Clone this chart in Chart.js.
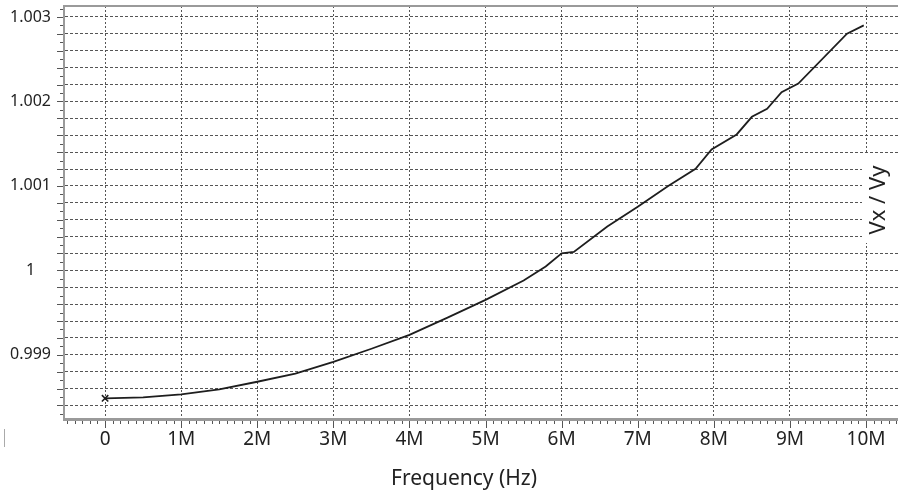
<!DOCTYPE html>
<html><head><meta charset="utf-8">
<script src="https://cdn.jsdelivr.net/npm/chart.js@4/dist/chart.umd.min.js"></script>
<style>html,body{margin:0;padding:0;background:#fff;overflow:hidden;} canvas{display:block;}</style>
</head><body>
<canvas id="c" width="898" height="493"></canvas>
<script>
const freqMHz = [0, 0.5, 1.0, 1.5, 2.0, 2.5, 3.0, 3.5, 4.0, 4.5, 5.0, 5.5, 5.79, 6.0, 6.16, 6.6, 7.0, 7.4, 7.76, 7.97, 8.3, 8.5, 8.7, 8.89, 9.11, 9.75, 9.97];
const ratio = [0.998485, 0.998497, 0.998532, 0.998592, 0.998681, 0.998778, 0.998917, 0.999072, 0.999237, 0.999440, 0.999650, 0.999880, 1.000045, 1.000202, 1.000218, 1.000520, 1.000754, 1.001000, 1.001203, 1.001431, 1.001609, 1.001818, 1.001913, 1.002109, 1.002212, 1.002803, 1.002901];
const xTickLabels = ['0', '1M', '2M', '3M', '4M', '5M', '6M', '7M', '8M', '9M', '10M'];
const yTickLabels = ['0.999', '1', '1.001', '1.002', '1.003'];
const xTitle = 'Frequency (Hz)';
const yTitle = 'Vx / Vy';

const FONT = "'Noto Sans', 'DejaVu Sans', sans-serif";

function noPad(s) { s.paddingTop = 0; s.paddingBottom = 0; s.paddingLeft = 0; s.paddingRight = 0; }

const deco = {
  id: 'deco',
  afterDraw(chart) {
    const {ctx, chartArea: a, scales: {x, y}} = chart;
    ctx.save();
    // top border
    ctx.strokeStyle = '#9a9a9a'; ctx.lineWidth = 2;
    ctx.beginPath(); ctx.moveTo(a.left, a.top); ctx.lineTo(a.right, a.top); ctx.stroke();
    // y minor ticks
    ctx.strokeStyle = '#555'; ctx.lineWidth = 1;
    for (let k = 0; k <= 50; k++) {
      const v = 0.9983 + k * 0.0001;
      if (v < y.min || v > y.max) continue;
      const py = Math.round(y.getPixelForValue(v)) + 0.5;
      const len = (k % 2 === 1) ? 6 : 3;
      ctx.beginPath(); ctx.moveTo(a.left - 1 - len, py); ctx.lineTo(a.left - 1, py); ctx.stroke();
    }
    // x minor ticks
    for (let t = -5; t <= 104; t++) {
      const v = t / 10;
      if (v < x.min || v > x.max) continue;
      const px = Math.round(x.getPixelForValue(v)) + 0.5;
      const len = (t % 10 === 0) ? 7 : 3;
      ctx.beginPath(); ctx.moveTo(px, a.bottom + 2); ctx.lineTo(px, a.bottom + 2 + len); ctx.stroke();
    }
    // y title with white box
    ctx.fillStyle = '#fff';
    ctx.fillRect(862, 154, 40, 89);
    ctx.fillStyle = '#222';
    ctx.font = '22px ' + FONT;
    ctx.textAlign = 'center'; ctx.textBaseline = 'middle';
    ctx.translate(879, 200); ctx.rotate(-Math.PI / 2);
    ctx.fillText(yTitle, 0, 0);
    ctx.restore();
    ctx.save();
    // x title
    ctx.fillStyle = '#222';
    ctx.font = '21px ' + FONT;
    ctx.textAlign = 'center'; ctx.textBaseline = 'middle';
    ctx.fillText(xTitle, 464, 479);
    // small artifact mark
    ctx.strokeStyle = '#aaa'; ctx.lineWidth = 1;
    ctx.beginPath(); ctx.moveTo(4.5, 429); ctx.lineTo(4.5, 447); ctx.stroke();
    ctx.restore();
  }
};

new Chart(document.getElementById('c'), {
  type: 'line',
  data: {
    datasets: [{
      data: freqMHz.map((f, i) => ({x: f, y: ratio[i]})),
      borderColor: '#1e1e1e',
      borderWidth: 1.8,
      tension: 0,
      pointStyle: 'crossRot',
      pointRadius: freqMHz.map((f, i) => i === 0 ? 4.5 : 0),
      pointBorderColor: '#1e1e1e',
      pointBorderWidth: 1.6,
      fill: false
    }]
  },
  plugins: [deco],
  options: {
    responsive: false,
    devicePixelRatio: 1,
    animation: false,
    layout: {autoPadding: false, padding: {top: 6, right: 0, left: 0, bottom: 0}},
    plugins: {legend: {display: false}, tooltip: {enabled: false}},
    scales: {
      x: {
        type: 'linear',
        min: -0.54, max: 10.42,
        afterFit(s) { s.height = 74; noPad(s); },
        afterBuildTicks(s) { s.ticks = xTickLabels.map((_, i) => ({value: i})); },
        ticks: {
          padding: 9,
          color: '#222',
          font: {family: FONT, size: 19},
          maxRotation: 0,
          autoSkip: false,
          callback: (v) => xTickLabels[Math.round(v)]
        },
        grid: {color: '#555', lineWidth: 1, drawTicks: false},
        border: {display: true, color: '#9a9a9a', width: 3, dash: [2, 2]}
      },
      y: {
        type: 'linear',
        min: 0.99824, max: 1.00313,
        afterFit(s) { s.width = 64; noPad(s); },
        afterBuildTicks(s) {
          const arr = [];
          for (let k = 0; k <= 23; k++) arr.push({value: 0.9984 + k * 0.0002});
          s.ticks = arr;
        },
        ticks: {
          padding: 13,
          crossAlign: 'center',
          color: '#222',
          font: {family: FONT, size: 16},
          autoSkip: false,
          callback: (v) => {
            const r = Math.round(v * 1000);
            return Math.abs(v * 1000 - r) < 1e-6 ? yTickLabels[r - 999] : '';
          }
        },
        grid: {color: '#555', lineWidth: 1, drawTicks: false},
        border: {display: true, color: '#9a9a9a', width: 2, dash: [3, 2]}
      }
    }
  }
});
</script>
</body></html>
